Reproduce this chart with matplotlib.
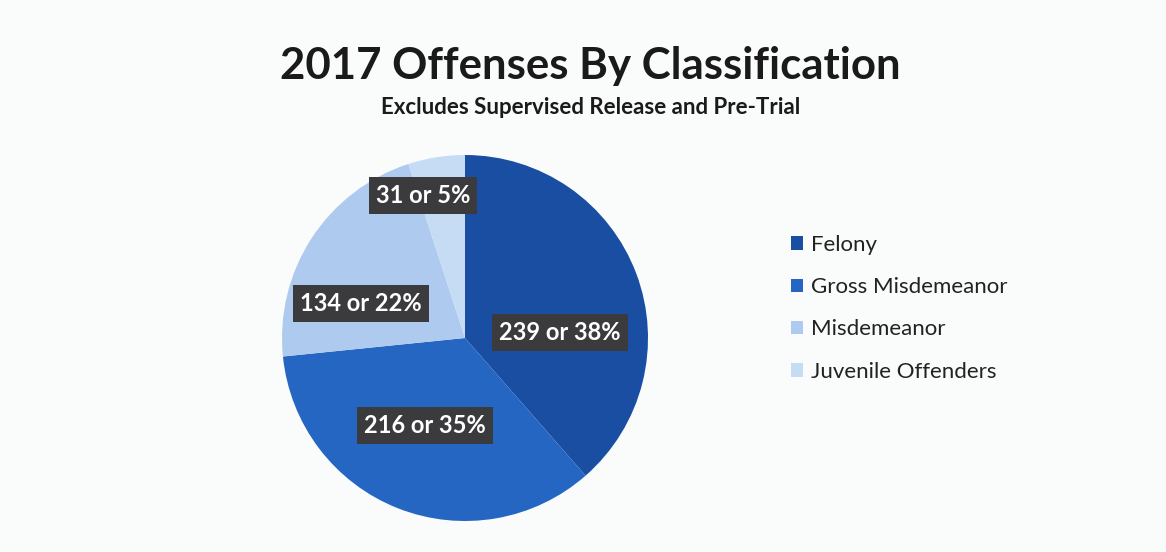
import matplotlib.pyplot as plt

plt.rcParams['font.family'] = ['Lato', 'DejaVu Sans']

# Data
categories = ["Felony", "Gross Misdemeanor", "Misdemeanor", "Juvenile Offenders"]
counts = [239, 216, 134, 31]
pct_labels = ["38%", "35%", "22%", "5%"]
colors = ["#194ea2", "#2466c2", "#aecbef", "#c6dcf5"]

# label spots inside the pie (fraction of radius), picked to match the original
label_pos = [(0.52, 0.03), (-0.22, -0.48), (-0.57, 0.19), (-0.23, 0.78)]

fig = plt.figure(figsize=(11.66, 5.52), dpi=100)
fig.patch.set_facecolor("#fafbfb")

ax = fig.add_axes([282 / 1166, 31 / 552, 366 / 1166, 366 / 552])
wedges, _ = ax.pie(counts, colors=colors, startangle=90, counterclock=False,
                   radius=1.0, wedgeprops=dict(linewidth=0))
ax.set_xlim(-1, 1)
ax.set_ylim(-1, 1)
ax.set_aspect("equal")

for n, p, (x, y) in zip(counts, pct_labels, label_pos):
    ax.text(x, y, f"{n} or {p}", ha="center", va="center", color="white",
            fontsize=17, fontweight="bold",
            bbox=dict(boxstyle="square,pad=0.3", fc="#3b3a3c", ec="none"))

fig.text(590 / 1166, 1 - 66 / 552, "2017 Offenses By Classification",
         ha="center", va="center", fontsize=31.5, fontweight="bold", color="#1a1a1a")
fig.text(591 / 1166, 1 - 108 / 552, "Excludes Supervised Release and Pre-Trial",
         ha="center", va="center", fontsize=16, fontweight="bold", color="#1a1a1a")

leg = fig.legend(wedges, categories, loc="upper left",
                 bbox_to_anchor=(771 / 1166, 1 - 215 / 552),
                 frameon=False, fontsize=16, handlelength=0.55, handleheight=0.55,
                 handletextpad=0.35, labelspacing=1.0)
for t in leg.get_texts():
    t.set_color("#222222")

fig.savefig("out.png", dpi=100, facecolor=fig.get_facecolor())
